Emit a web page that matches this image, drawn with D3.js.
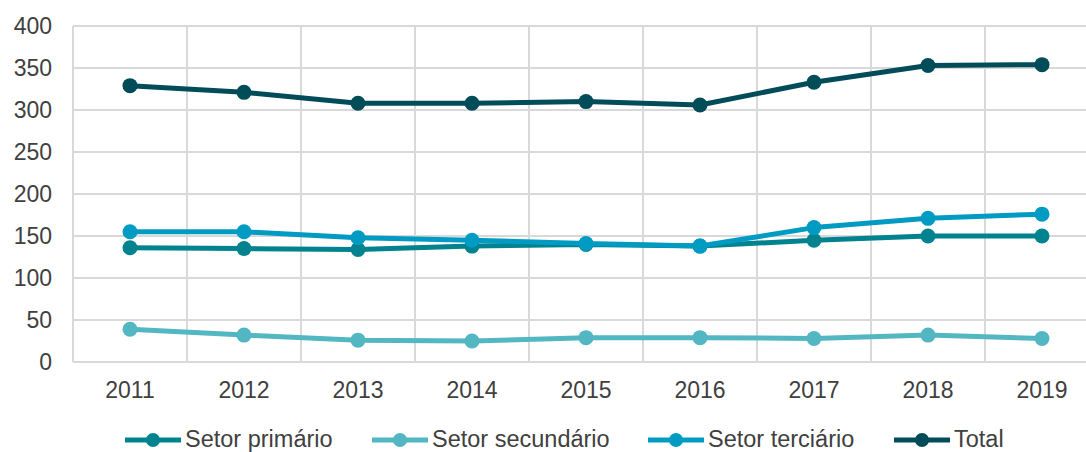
<!DOCTYPE html>
<html><head><meta charset="utf-8">
<script src="https://cdn.jsdelivr.net/npm/d3@7"></script>
<style>
html,body{margin:0;padding:0;background:#fff;overflow:hidden;}
svg{display:block;font-family:"Liberation Sans",Arial,sans-serif;}
</style></head><body>
<svg id="c" width="1086" height="452"></svg>
<script>
const years = ["2011","2012","2013","2014","2015","2016","2017","2018","2019"];
const primario   = [136,135,134,138,140,138,145,150,150];
const secundario = [39,32,26,25,29,29,28,32,28];
const terciario  = [155,155,148,145,141,138,160,171,176];
const total      = [329,321,308,308,310,306,333,353,354];
const yTicks = [0,50,100,150,200,250,300,350,400];
const seriesNames = ["Setor primário","Setor secundário","Setor terciário","Total"];
const seriesColors = ["#00828f","#52b7c2","#009bc2","#004c58"];

const series = [primario, secundario, terciario, total].map((v,i)=>({name:seriesNames[i], color:seriesColors[i], values:v}));

const svg = d3.select("#c");
const mLeft = 73, mTop = 26, mBottom = 362, step = 114;
const x = d3.scaleBand().domain(years).range([mLeft, mLeft + step*years.length]);
const y = d3.scaleLinear().domain([0,400]).range([mBottom, mTop]);

const grid = svg.append("g");
grid.selectAll("line.h").data(yTicks).join("line")
  .attr("x1", mLeft).attr("x2", x.range()[1])
  .attr("y1", d=>y(d)).attr("y2", d=>y(d))
  .attr("stroke","#d9d9d9").attr("stroke-width",2);
const vb = years.map(d=>x(d)).concat([x.range()[1]]);
grid.selectAll("line.v").data(vb).join("line")
  .attr("x1", d=>d).attr("x2", d=>d)
  .attr("y1", mTop).attr("y2", mBottom)
  .attr("stroke","#d9d9d9").attr("stroke-width",2);

const yAxis = d3.axisLeft(y).tickValues(yTicks).tickSize(0).tickPadding(21);
const ya = svg.append("g").attr("transform",`translate(${mLeft},0)`).call(yAxis);
ya.select(".domain").remove();
ya.selectAll("text").attr("font-size",23).attr("fill","#404040").attr("font-family","'Liberation Sans',Arial,sans-serif");

const xAxis = d3.axisBottom(x).tickSize(0).tickPadding(20);
const xa = svg.append("g").attr("transform",`translate(0,${mBottom})`).call(xAxis);
xa.select(".domain").remove();
xa.selectAll("text").attr("font-size",23).attr("fill","#404040").attr("font-family","'Liberation Sans',Arial,sans-serif");

const line = d3.line().x((d,i)=>x(years[i])+x.bandwidth()/2).y(d=>y(d));
series.forEach(s=>{
  const g = svg.append("g");
  g.append("path").attr("d", line(s.values)).attr("fill","none")
    .attr("stroke", s.color).attr("stroke-width",5).attr("stroke-linejoin","round");
  g.selectAll("circle").data(s.values).join("circle")
    .attr("cx",(d,i)=>x(years[i])+x.bandwidth()/2).attr("cy",d=>y(d)).attr("r",7.5)
    .attr("fill", s.color);
});

const legX = [125, 372, 648, 894];
const legY = 440;
const lg = svg.append("g");
series.forEach((s,i)=>{
  const g = lg.append("g").attr("transform",`translate(${legX[i]},${legY})`);
  g.append("line").attr("x1",0).attr("x2",56).attr("y1",0).attr("y2",0).attr("stroke",s.color).attr("stroke-width",5);
  g.append("circle").attr("cx",28).attr("cy",0).attr("r",7).attr("fill",s.color);
  g.append("text").attr("x",60).attr("y",0).attr("dy","0.3em").attr("font-size",23.5).attr("fill","#404040").text(s.name);
});
</script>
</body></html>
